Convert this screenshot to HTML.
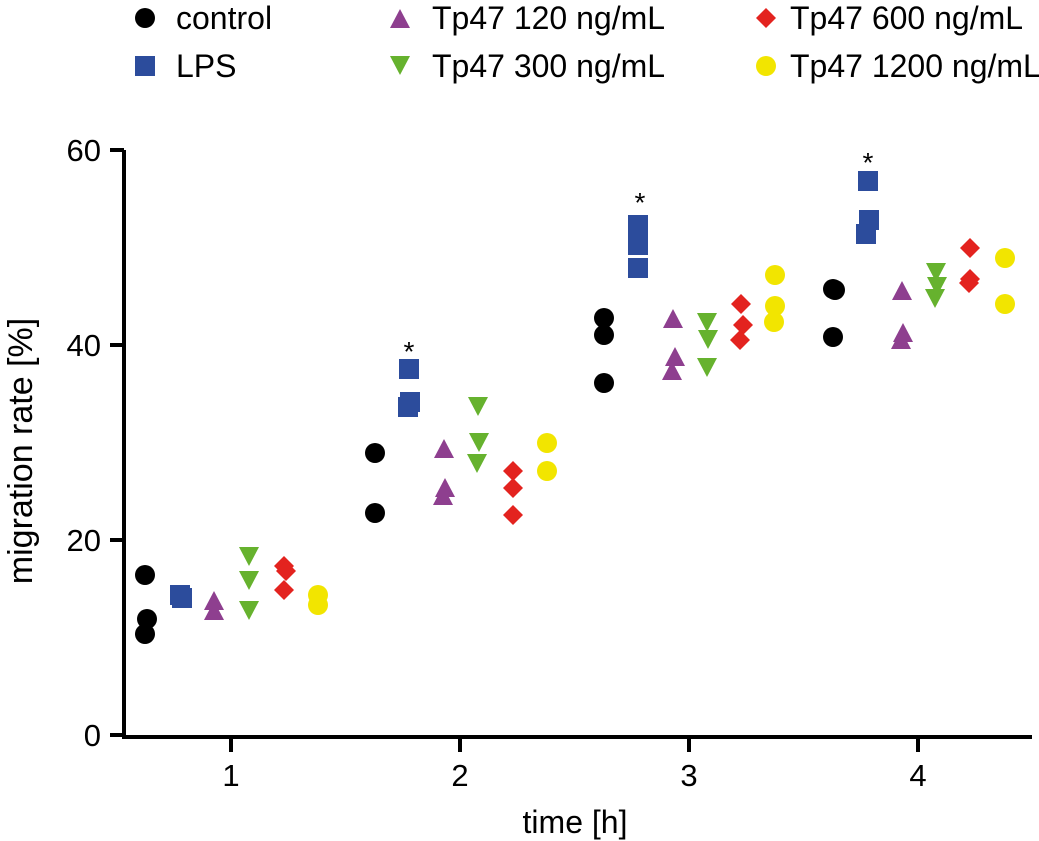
<!DOCTYPE html>
<html><head><meta charset="utf-8"><style>
html,body{margin:0;padding:0;background:#fff}
svg{display:block}
text{font-family:"Liberation Sans",sans-serif;fill:#000}
</style></head><body>
<svg width="1039" height="841" viewBox="0 0 1039 841" xmlns="http://www.w3.org/2000/svg">
<defs>
<circle id="c" r="10" fill="#000"/>
<rect id="s" x="-10" y="-10" width="20" height="20" fill="#2c4c9c"/>
<polygon id="u" points="0,-11 10,8 -10,8" fill="#8e3f8f"/>
<polygon id="d" points="0,11 10,-8 -10,-8" fill="#66b22e"/>
<polygon id="r" points="0,-10 10,0 0,10 -10,0" fill="#e3231f"/>
<circle id="y" r="10" fill="#f2e500"/>
</defs>
<!-- legend -->
<g font-size="32">
<use href="#c" x="145" y="18"/><text x="176" y="29">control</text>
<use href="#s" x="145" y="66"/><text x="176" y="77">LPS</text>
<use href="#u" x="400" y="20"/><text x="432" y="29">Tp47 120 ng/mL</text>
<use href="#d" x="400" y="64"/><text x="432" y="77">Tp47 300 ng/mL</text>
<use href="#r" x="766" y="18"/><text x="790" y="29">Tp47 600 ng/mL</text>
<use href="#y" x="766" y="66"/><text x="790" y="77">Tp47 1200 ng/mL</text>
</g>
<!-- axes -->
<g stroke="#000" stroke-width="4" fill="none">
<path d="M124,150 V737 H1032"/>
<path d="M110,150 H124 M110,345 H124 M110,540 H124 M110,735 H124"/>
<path d="M231,735 V752 M460,735 V752 M689,735 V752 M918,735 V752"/>
</g>
<g font-size="31" text-anchor="end">
<text x="101" y="161">60</text><text x="101" y="356">40</text><text x="101" y="551">20</text><text x="101" y="746">0</text>
</g>
<g font-size="31" text-anchor="middle">
<text x="231" y="786">1</text><text x="460" y="786">2</text><text x="689" y="786">3</text><text x="918" y="786">4</text>
<text x="575" y="833" font-size="32">time [h]</text>
</g>
<text transform="translate(32,451) rotate(-90)" font-size="34" text-anchor="middle">migration rate [%]</text>
<!-- stars -->
<g font-size="28" text-anchor="middle">
<text x="409" y="361">*</text><text x="640" y="212">*</text><text x="868" y="172">*</text>
</g>
<!-- data -->
<use href="#c" x="145" y="575"/><use href="#c" x="147" y="619"/><use href="#c" x="145" y="634"/>
<use href="#s" x="180" y="595"/><use href="#s" x="182" y="598"/>
<use href="#u" x="214" y="602"/><use href="#u" x="214" y="612"/>
<use href="#d" x="249" y="555"/><use href="#d" x="249" y="579"/><use href="#d" x="249" y="609"/>
<use href="#r" x="284" y="566"/><use href="#r" x="286" y="571"/><use href="#r" x="284" y="590"/>
<use href="#y" x="318" y="595"/><use href="#y" x="318" y="605"/>

<use href="#c" x="375" y="453"/><use href="#c" x="375" y="513"/>
<use href="#s" x="409" y="369"/><use href="#s" x="410" y="402"/><use href="#s" x="408" y="407"/>
<use href="#u" x="444" y="450"/><use href="#u" x="445" y="489"/><use href="#u" x="443" y="497"/>
<use href="#d" x="478" y="405"/><use href="#d" x="479" y="441"/><use href="#d" x="477" y="462"/>
<use href="#r" x="513" y="471"/><use href="#r" x="513" y="488"/><use href="#r" x="513" y="515"/>
<use href="#y" x="547" y="443"/><use href="#y" x="547" y="471"/>

<use href="#c" x="604" y="318"/><use href="#c" x="604" y="335"/><use href="#c" x="604" y="383"/>
<use href="#s" x="638" y="225"/><use href="#s" x="638" y="245"/><use href="#s" x="638" y="268"/>
<use href="#u" x="673" y="320"/><use href="#u" x="675" y="358"/><use href="#u" x="672" y="372"/>
<use href="#d" x="707" y="321"/><use href="#d" x="708" y="338"/><use href="#d" x="707" y="366"/>
<use href="#r" x="741" y="304"/><use href="#r" x="743" y="325"/><use href="#r" x="740" y="340"/>
<use href="#y" x="775" y="275"/><use href="#y" x="775" y="306"/><use href="#y" x="774" y="322"/>

<use href="#c" x="833" y="289"/><use href="#c" x="835" y="290"/><use href="#c" x="833" y="337"/>
<use href="#s" x="868" y="181"/><use href="#s" x="869" y="220"/><use href="#s" x="866" y="234"/>
<use href="#u" x="902" y="292"/><use href="#u" x="903" y="334"/><use href="#u" x="901" y="341"/>
<use href="#d" x="936" y="271"/><use href="#d" x="937" y="285"/><use href="#d" x="935" y="297"/>
<use href="#r" x="970" y="248"/><use href="#r" x="970" y="279"/><use href="#r" x="969" y="283"/>
<use href="#y" x="1005" y="258"/><use href="#y" x="1005" y="304"/>
</svg>
</body></html>
